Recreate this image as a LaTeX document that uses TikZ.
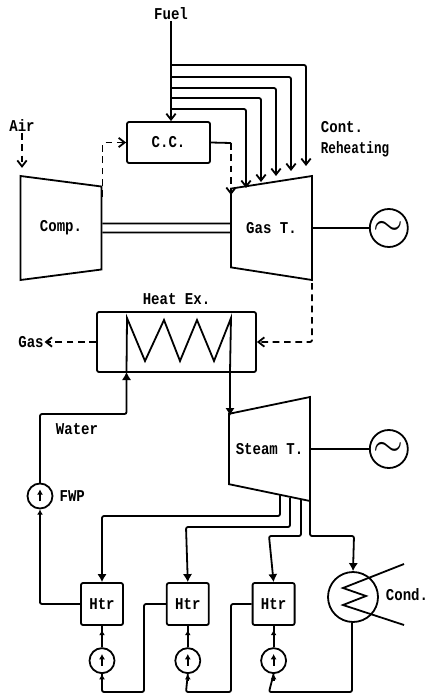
\documentclass[tikz,border=0pt]{standalone}
\usepackage{fontspec}
\newfontfamily\plotfont[FakeStretch=0.85]{Liberation Mono}
\usetikzlibrary{arrows.meta,positioning,shapes.geometric,calc}
\begin{document}
\begin{tikzpicture}[x=0.75pt,y=-0.75pt,line width=1.35pt,>={Straight Barb[length=4.5pt,width=7pt]},rounded corners=1.5pt]
\tikzstyle{every node}=[font=\plotfont\bfseries\fontsize{12.4}{14}\selectfont,inner sep=0pt]
\tikzstyle{turbine}=[draw,sharp corners,trapezium,trapezium stretches body,trapezium left angle=76,trapezium right angle=76,minimum height=60.75pt,minimum width=78pt]
\tikzstyle{box}=[draw,minimum width=31.5pt,minimum height=31.5pt]
\tikzstyle{pump}=[draw,circle,minimum size=18.75pt]
\tikzstyle{gen}=[draw,circle,minimum size=28.5pt]
\tikzstyle{gasflow}=[dashed,dash pattern=on 5pt off 3.5pt]
\tikzstyle{feed}=[-{Latex[length=6pt,width=7pt]}]
\tikzstyle{small}=[-{Latex[length=4pt,width=4.5pt]}]
\useasboundingbox (0,0) rectangle (427,696);
% machines
\node[turbine,shape border rotate=270] (comp) at (61,228) {Comp.};
\node[turbine,shape border rotate=90] (gas) at (271.5,228) {Gas T.};
\node[turbine,shape border rotate=90] (steam) at (269.5,449) {Steam T.};
\node[gen,right=42pt of gas] (gen1) {\scalebox{2.4}{$\sim$}};
\node[gen,right=43.5pt of steam] (gen2) {\scalebox{2.4}{$\sim$}};
\node[draw,minimum width=62.25pt,minimum height=30.75pt] (cc) at (168.5,142.5) {C.C.};
\node[draw,minimum width=119.25pt,minimum height=45pt] (hx) at (176.5,342) {};
\node[above=4pt of hx] (hxlabel) {Heat Ex.};
% heaters and pumps
\node[box] (htr1) at (102,604) {Htr};
\node[box,right=31.5pt of htr1] (htr2) {Htr};
\node[box,right=31.5pt of htr2] (htr3) {Htr};
\node[pump,below=16pt of htr1] (pump1) {};
\node[pump,below=16pt of htr2] (pump2) {};
\node[pump,below=16pt of htr3] (pump3) {};
\node[pump] (fwp) at (40,496) {};
\node[right=4pt of fwp] (fwplabel) {FWP};
\node[draw,circle,minimum size=37.5pt] (cond) at (353,597) {};
% labels
\node (fuel) at (171,14) {Fuel};
\node (air) at (22,126) {Air};
\node (gasout) at (31,342) {Gas};
\node (water) at (77,429) {Water};
\node[anchor=west] (cont) at (320,127) {Cont.};
\node[anchor=west] (reheat) at (320,149) {\scalebox{.9}[1]{Reheating}};
\node[anchor=west] (condlabel) at (385,595) {Cond.};
\coordinate (fuelend) at (fuel |- cc.north);
% gas side
\draw[->] (fuel.south) -- (fuelend);
\foreach \bx/\by/\ty in {306/65/166,291/77/171,276/88/176,261/98/182,246/109/188}
  \draw[->] (fuel |- 0,\by) -| (\bx,\ty);
\draw[->,gasflow] (air.south) -- ++(0,35);
\draw[->,gasflow] (comp.east) ++(0,-31) |- (cc.west);
\coordinate (ccbend) at (231,143);
\draw (cc.east) -- (ccbend);
\draw[->,gasflow] (ccbend) -- (231,195);
\draw ([yshift=-3.4pt]comp.east) -- ([yshift=-3.4pt]gas.west);
\draw ([yshift=3.4pt]comp.east) -- ([yshift=3.4pt]gas.west);
\draw (gas.east) -- (gen1.west);
\draw (steam.east) -- (gen2.west);
\draw[->,gasflow] (312,283) |- (hx.east);
\draw[->,gasflow] (hx.west) -- (gasout.east);
% coil
\coordinate (coilin) at (126.5,372);
\coordinate (coilout) at (230,372);
\draw[sharp corners] (coilin) -- (127,318) -- (145,361) -- (164,320) -- (180,361) -- (197,320) -- (214,361) -- (231,318) -- (coilout);
\draw[feed] (coilout) -- (230,416);
% water side
\draw[feed] (40,483) -- (40,414) -| (coilin);
\draw[small] (40,603) -- (fwp.south);
\draw (htr1.west) -| (40,603);
\draw (pump1.south) -- (102,692) -- (144,692) -- (144,604) -- (htr2.west);
\draw (pump2.south) -- (186,692) -- (231,692) -- (231,604) -- (htr3.west);
\draw (pump3.south) -- (269,692) -- (352,692) -- (cond.south -| 352,0);
\foreach \p/\h in {pump1/htr1,pump2/htr2,pump3/htr3}{
  \draw (\p.north) -- (\h.south);
  \draw[small] (\p.north) -- ([yshift=-3pt]\h.south);
  \draw[small] ([yshift=-5pt]\p.south) -- (\p.south);
}
\foreach \p in {fwp,pump1,pump2,pump3}
  \draw[small] ([yshift=-4pt]\p.center) -- ([yshift=5pt]\p.center);
% bleeds
\draw[feed] (280,495) |- (102,516) -- (htr1.north);
\draw[feed] (290,498) |- (186,527) -- (htr2.north);
\draw[feed] (301,499) |- (269,536) -- (htr3.north);
\draw[feed] (310,501) |- (354,536) -- (cond.north);
% condenser coil
\draw[sharp corners] (404,564) -- (343,588) -- (366,596) -- (343,605) -- (404,625);
\end{tikzpicture}
\end{document}
